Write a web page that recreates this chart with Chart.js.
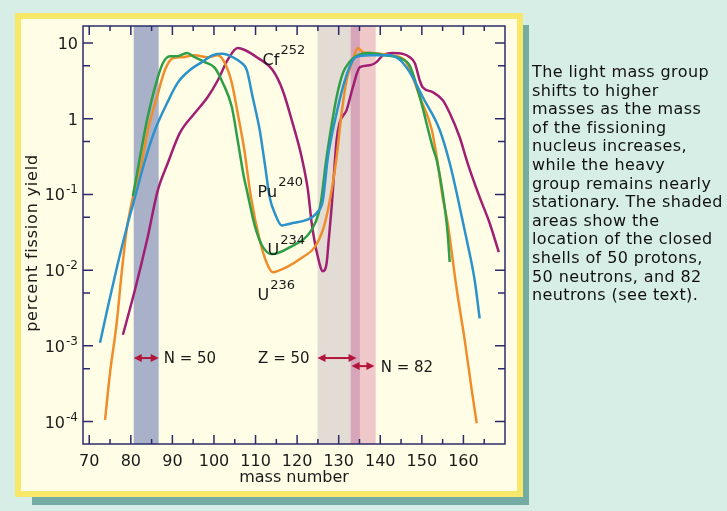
<!DOCTYPE html>
<html>
<head>
<meta charset="utf-8">
<script src="https://cdn.jsdelivr.net/npm/chart.js@4/dist/chart.umd.min.js"></script>
<style>
  html, body { margin: 0; padding: 0; }
  body { width: 727px; height: 511px; background: #d7eee7; position: relative; overflow: hidden; font-family: "DejaVu Sans", sans-serif; }
  #shadow { position: absolute; left: 32px; top: 25px; width: 497px; height: 480px; background: #74aca4; }
  #panel { position: absolute; left: 15px; top: 13px; width: 496px; height: 472px; background: #fffde6; border: 6px solid #f7e86a; }
  #chart { position: absolute; left: 0; top: 0; }
  #note { position: absolute; left: 532px; top: 63px; font-size: 16px; line-height: 18.6px; letter-spacing: 0.4px; color: #111; white-space: nowrap; }
</style>
</head>
<body>
<div id="shadow"></div>
<div id="panel"></div>
<canvas id="chart" width="727" height="511"></canvas>
<div id="note">The light mass group<br>shifts to higher<br>masses as the mass<br>of the fissioning<br>nucleus increases,<br>while the heavy<br>group remains nearly<br>stationary. The shaded<br>areas show the<br>location of the closed<br>shells of 50 protons,<br>50 neutrons, and 82<br>neutrons (see text).</div>
<script>
// mass number / percent yield
const u234Mass  = [80.5, 82.2, 83.9, 85.8, 87.7, 89.4, 91.1, 93.5, 95.4, 97.8, 100.2, 102.1, 104.3, 105.7, 107.2, 107.9, 109.8, 111.5, 113.9, 118.2, 123.5, 125.2, 125.9, 126.9, 128.1, 129.5, 131.0, 132.6, 134.1, 137.5, 141.1, 144.7, 147.1, 149.5, 152.6, 153.6, 155.5, 156.2, 156.7];
const u234Yield = [0.095, 0.31, 0.96, 2.6, 5.4, 6.7, 6.7, 7.4, 6.5, 5.6, 4.7, 3.0, 1.43, 0.52, 0.17, 0.114, 0.039, 0.0215, 0.0163, 0.020, 0.034, 0.057, 0.092, 0.26, 0.71, 1.94, 4.0, 5.6, 6.7, 7.4, 6.9, 6.3, 5.0, 1.94, 0.42, 0.28, 0.068, 0.031, 0.0128];

const u236Mass  = [73.8, 75.0, 76.6, 77.8, 79.0, 80.5, 82.6, 84.1, 86.3, 88.2, 90.1, 92.3, 95.4, 98.5, 100.9, 102.6, 104.3, 105.7, 107.2, 108.9, 111.0, 112.7, 114.1, 117.5, 121.4, 124.2, 126.2, 127.4, 128.3, 129.5, 130.7, 131.9, 133.4, 134.6, 135.8, 137.5, 139.9, 142.3, 144.7, 146.4, 149.5, 152.4, 153.8, 155.0, 156.2, 158.4, 160.3, 162.0, 163.2];
const u236Yield = [1.05e-4, 4.4e-4, 0.0020, 0.0092, 0.034, 0.092, 0.26, 0.71, 1.94, 4.4, 6.3, 6.5, 6.9, 6.5, 6.9, 5.45, 2.96, 1.19, 0.42, 0.092, 0.025, 0.0124, 0.0094, 0.011, 0.0149, 0.020, 0.034, 0.062, 0.114, 0.31, 1.19, 3.2, 6.0, 8.6, 7.6, 7.4, 7.2, 6.9, 6.5, 5.45, 1.94, 0.71, 0.26, 0.092, 0.042, 0.0055, 0.0012, 2.6e-4, 9.5e-5];

const pu240Mass  = [72.6, 74.5, 76.9, 79.3, 81.0, 83.4, 85.8, 88.7, 91.3, 94.2, 97.1, 99.7, 102.1, 104.5, 106.7, 107.9, 109.3, 111.0, 112.2, 113.4, 114.6, 116.3, 118.9, 122.3, 124.7, 126.2, 127.4, 129.5, 131.0, 132.6, 134.1, 137.5, 142.3, 144.7, 147.1, 150.2, 154.3, 156.7, 158.6, 160.8, 162.7, 163.9];
const pu240Yield = [0.0011, 0.0033, 0.0124, 0.042, 0.092, 0.28, 0.71, 1.6, 3.0, 4.4, 5.6, 6.9, 7.2, 6.5, 5.45, 4.4, 1.94, 0.71, 0.26, 0.092, 0.057, 0.039, 0.042, 0.046, 0.057, 0.084, 0.31, 1.19, 2.6, 4.8, 6.5, 6.9, 6.9, 6.0, 4.1, 1.94, 0.71, 0.26, 0.092, 0.025, 0.0074, 0.0023];

const cf252Mass  = [78.1, 81.0, 83.9, 86.5, 88.9, 91.8, 95.4, 98.5, 100.9, 103.3, 105.7, 107.4, 110.3, 114.1, 116.5, 118.9, 121.1, 122.6, 123.5, 125.0, 126.2, 127.1, 127.6, 128.3, 129.5, 130.2, 131.9, 133.4, 135.1, 137.5, 139.1, 140.6, 143.0, 145.4, 147.1, 148.3, 149.5, 150.2, 152.6, 155.0, 156.7, 159.1, 161.0, 163.9, 166.3, 168.5];
const cf252Yield = [0.0014, 0.0055, 0.025, 0.114, 0.26, 0.65, 1.19, 1.94, 3.2, 6.0, 8.6, 8.1, 6.5, 4.4, 2.4, 0.88, 0.31, 0.114, 0.042, 0.0149, 0.0097, 0.0124, 0.025, 0.068, 0.52, 0.88, 1.3, 2.6, 4.8, 5.1, 5.6, 6.9, 7.4, 7.2, 6.5, 5.45, 3.2, 2.6, 2.25, 1.77, 1.19, 0.57, 0.26, 0.092, 0.042, 0.0173];

// closed shells (mass ranges)
const n50Band = [80.7, 86.7];
const z50Band = [124.9, 135.1];
const n82Band = [132.9, 138.9];

// axis ticks
const xTicks = [70, 75, 80, 85, 90, 95, 100, 105, 110, 115, 120, 125, 130, 135, 140, 145, 150, 155, 160, 165];
const yMajor = [1e-4, 1e-3, 1e-2, 1e-1, 1, 10];
const yMinor = [5e-4, 5e-3, 5e-2, 0.5, 5];
const yLabels = [['10', '-4'], ['10', '-3'], ['10', '-2'], ['10', '-1'], ['1', ''], ['10', '']];

// curve names: [name, mass number, label mass, label yield]
const curveLabels = [['Cf', '252', 111.7, 5.1], ['Pu', '240', 110.5, 0.092], ['U', '234', 112.9, 0.0158], ['U', '236', 110.5, 0.0040]];

const FONT = '"DejaVu Sans", sans-serif';

function pts(m, v){
    return m.map((e, i) => ({x: e, y: v[i]}));
}

function supText(ctx, base, sup, x, y, size, supSize, rise, align){
    ctx.font = size + 'px ' + FONT;
    let w1 = ctx.measureText(base).width;
    ctx.font = supSize + 'px ' + FONT;
    let w2 = sup ? ctx.measureText(sup).width + 1 : 0;
    let left = align == 'right' ? x - w1 - w2 : x;
    ctx.textAlign = 'left';
    ctx.textBaseline = 'alphabetic';
    ctx.font = size + 'px ' + FONT;
    ctx.fillText(base, left, y);
    if(sup){
        ctx.font = supSize + 'px ' + FONT;
        ctx.fillText(sup, left + w1 + 1, y - rise);
    }
}

function arrow(ctx, x0, x1, yy){
    ctx.strokeStyle = '#b3143c';
    ctx.fillStyle = '#b3143c';
    ctx.lineWidth = 2;
    ctx.beginPath();
    ctx.moveTo(x0 + 4, yy);
    ctx.lineTo(x1 - 4, yy);
    ctx.stroke();
    ctx.beginPath();
    ctx.moveTo(x0, yy); ctx.lineTo(x0 + 8, yy - 4); ctx.lineTo(x0 + 8, yy + 4);
    ctx.closePath(); ctx.fill();
    ctx.beginPath();
    ctx.moveTo(x1, yy); ctx.lineTo(x1 - 8, yy - 4); ctx.lineTo(x1 - 8, yy + 4);
    ctx.closePath(); ctx.fill();
}

const decor = {
    id: 'decor',
    beforeDatasetsDraw(chart){
        const {ctx, chartArea: a, scales: {x}} = chart;
        const band = (r, color) => {
            let x0 = x.getPixelForValue(r[0]), x1 = x.getPixelForValue(r[1]);
            ctx.fillStyle = color;
            ctx.fillRect(x0, a.top, x1 - x0, a.bottom - a.top);
        };
        ctx.save();
        band(n50Band, '#a9b1c9');
        band(z50Band, '#e3dcd5');
        band(n82Band, '#efc9c9');
        band([Math.max(z50Band[0], n82Band[0]), Math.min(z50Band[1], n82Band[1])], '#d6a5ba');
        ctx.restore();
    },
    afterDatasetsDraw(chart){
        const {ctx, chartArea: a, scales: {x, y}} = chart;
        ctx.save();

        // shell arrows and labels
        let yA = y.getPixelForValue(6.9e-4), yB = y.getPixelForValue(5.4e-4);
        arrow(ctx, x.getPixelForValue(n50Band[0]), x.getPixelForValue(n50Band[1]), yA);
        arrow(ctx, x.getPixelForValue(z50Band[0]), x.getPixelForValue(134.3), yA);
        arrow(ctx, x.getPixelForValue(133.1), x.getPixelForValue(138.6), yB);
        ctx.fillStyle = '#1a1a1a';
        ctx.font = '15px ' + FONT;
        ctx.textBaseline = 'middle';
        ctx.textAlign = 'left';
        ctx.fillText('N = 50', x.getPixelForValue(87.9), yA + 1);
        ctx.fillText('N = 82', x.getPixelForValue(140.1), yB + 2);
        ctx.textAlign = 'right';
        ctx.fillText('Z = 50', x.getPixelForValue(123.0), yA + 1);

        // curve names
        for(let c of curveLabels){
            supText(ctx, c[0], c[1], x.getPixelForValue(c[2]), y.getPixelForValue(c[3]), 16, 13, 11, 'left');
        }

        // frame and inward ticks on all four sides
        ctx.strokeStyle = '#2b2b6b';
        ctx.lineWidth = 1.5;
        ctx.beginPath();
        for(let v of xTicks){
            let px = x.getPixelForValue(v);
            let len = v % 10 == 0 ? 9 : 5;
            ctx.moveTo(px, a.bottom); ctx.lineTo(px, a.bottom - len);
            ctx.moveTo(px, a.top); ctx.lineTo(px, a.top + len);
        }
        for(let v of yMajor){
            let py = y.getPixelForValue(v);
            ctx.moveTo(a.left, py); ctx.lineTo(a.left + 10, py);
            ctx.moveTo(a.right, py); ctx.lineTo(a.right - 10, py);
        }
        for(let v of yMinor){
            let py = y.getPixelForValue(v);
            ctx.moveTo(a.left, py); ctx.lineTo(a.left + 7, py);
            ctx.moveTo(a.right, py); ctx.lineTo(a.right - 7, py);
        }
        ctx.stroke();
        ctx.strokeRect(a.left, a.top, a.right - a.left, a.bottom - a.top);

        // y tick labels with exponents
        ctx.fillStyle = '#1a1a1a';
        yMajor.forEach((v, i) => {
            let py = y.getPixelForValue(v);
            supText(ctx, yLabels[i][0], yLabels[i][1], a.left - 5, py + 6, 16, 12, 7, 'right');
        });

        // axis titles
        ctx.font = '16px ' + FONT;
        ctx.textAlign = 'center';
        ctx.textBaseline = 'middle';
        ctx.fillText('mass number', (a.left + a.right) / 2, 478);
        ctx.translate(33, 243);
        ctx.rotate(-Math.PI / 2);
        ctx.letterSpacing = '0.8px';
        ctx.fillText('percent fission yield', 0, 0);
        ctx.restore();
    }
};

function line(label, data, color){
    return {
        label: label,
        data: data,
        borderColor: color,
        borderWidth: 2.5,
        pointRadius: 0,
        cubicInterpolationMode: 'monotone',
        fill: false
    };
}

let ctx = document.getElementById('chart').getContext('2d');
let chart = new Chart(ctx, {
    type: 'line',
    data: {
        datasets: [
            line('Pu240', pts(pu240Mass, pu240Yield), '#2b93c9'),
            line('U234', pts(u234Mass, u234Yield), '#2e9e48'),
            line('U236', pts(u236Mass, u236Yield), '#f08d2b'),
            line('Cf252', pts(cf252Mass, cf252Yield), '#a01f72')
        ]
    },
    options: {
        responsive: false,
        animation: false,
        layout: { padding: { left: 0, top: 26, right: 222, bottom: 0 } },
        plugins: { legend: { display: false }, tooltip: { enabled: false } },
        scales: {
            x: {
                type: 'linear',
                min: 68.5,
                max: 170,
                grid: { display: false, drawTicks: false },
                border: { display: false },
                afterBuildTicks: s => { s.ticks = xTicks.map(v => ({value: v})); },
                afterFit: s => { s.height = 67; },
                ticks: {
                    autoSkip: false,
                    maxRotation: 0,
                    padding: 8,
                    color: '#1a1a1a',
                    font: { family: FONT, size: 16 },
                    callback: v => v % 10 == 0 ? String(v) : ''
                }
            },
            y: {
                type: 'logarithmic',
                min: 5.05e-5,
                max: 16.8,
                grid: { display: false, drawTicks: false },
                border: { display: false },
                ticks: { display: false },
                afterFit: s => { s.width = 83; }
            }
        }
    },
    plugins: [decor]
});
</script>
</body>
</html>
